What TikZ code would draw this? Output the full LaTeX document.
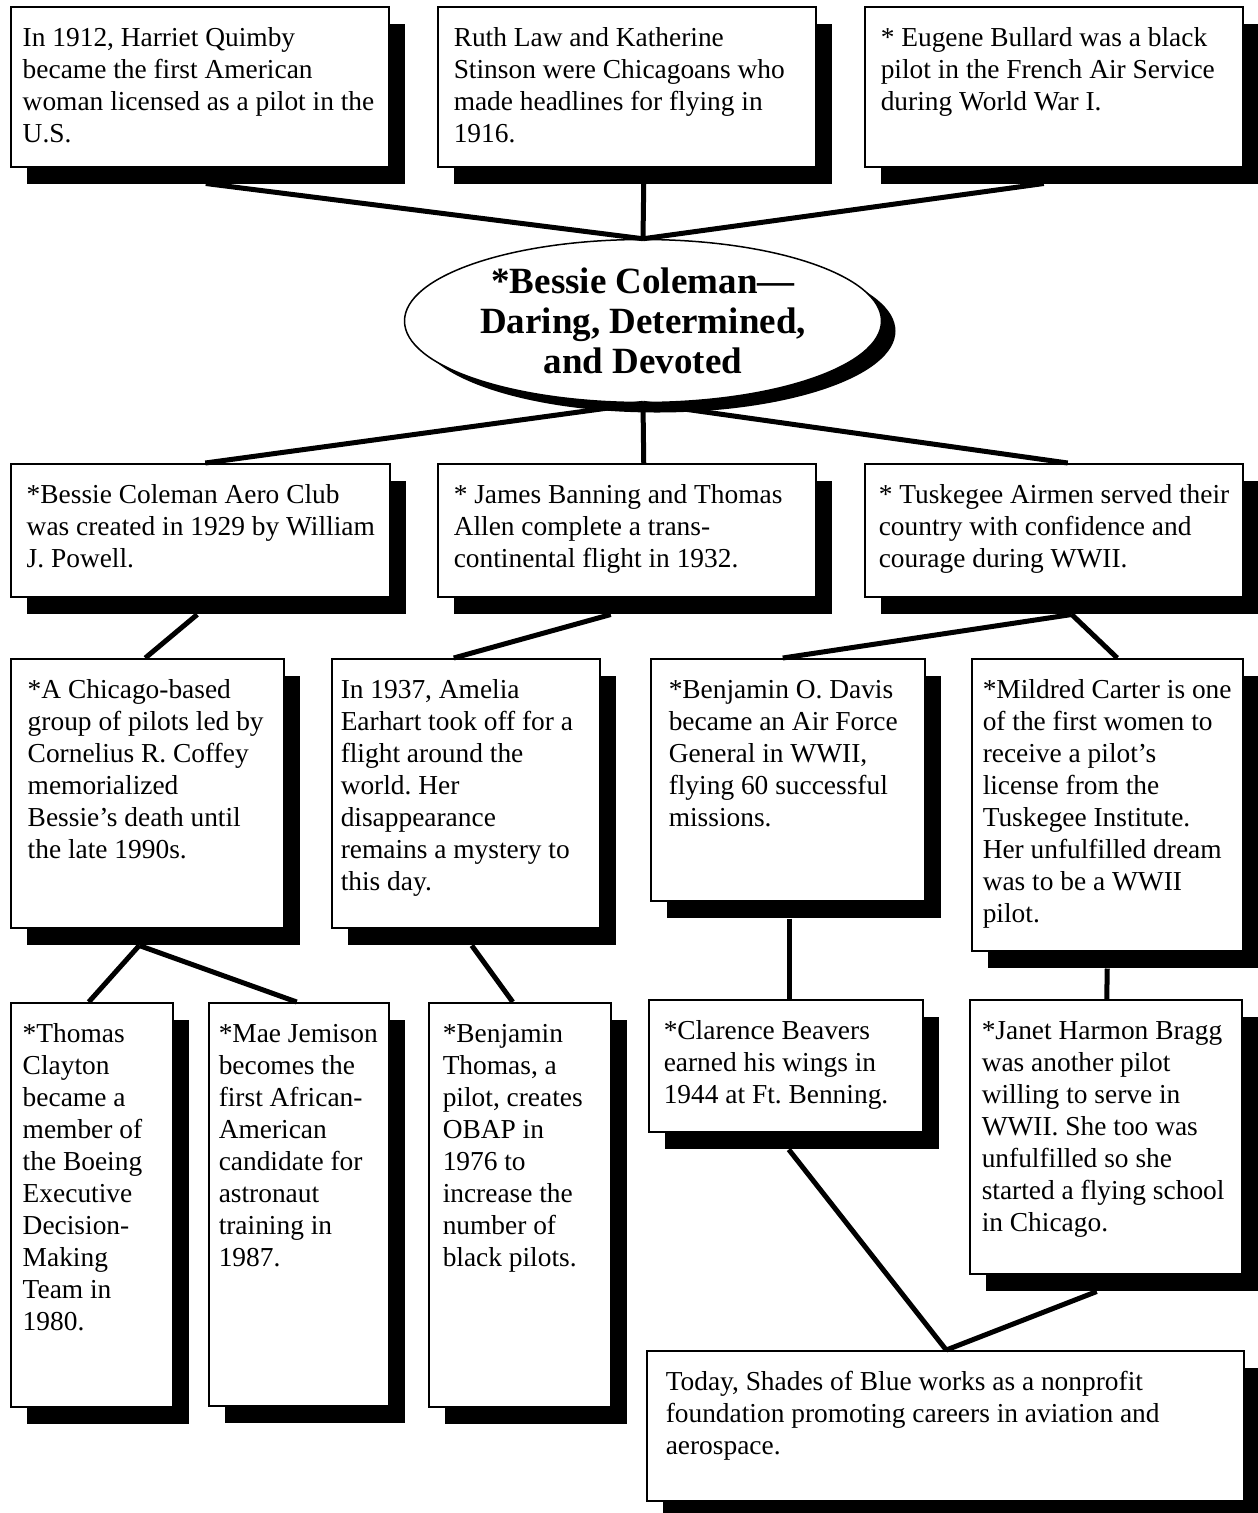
\documentclass[tikz,border=0pt]{standalone}
\usepackage{fontspec}
\setmainfont{Liberation Serif}
\usetikzlibrary{shapes.geometric,shadows}
\frenchspacing

% text of a card: [left pad]{width}{height}{lines}
\newcommand\cardtext[4][16]{%
  \begin{minipage}[t][#3pt][t]{#2pt}%
    \raggedright\leftskip=#1pt\rightskip=-40pt plus 1fil
    \rule{0pt}{40pt}#4%
  \end{minipage}}

\tikzset{
  card/.style={draw, fill=white, line width=1.5pt, inner sep=0pt,
    anchor=north west, font=\fontsize{27.4}{32}\selectfont,
    drop shadow={shadow xshift=16pt, shadow yshift=-17pt, fill=black, opacity=1}},
  hub/.style={ellipse, draw, fill=white, line width=1.5pt, inner sep=0pt,
    minimum width=477pt, minimum height=163pt, align=center,
    font=\bfseries\fontsize{37}{40}\selectfont,
    drop shadow={shadow xshift=14pt, shadow yshift=-10pt, fill=black, opacity=1}},
  link/.style={line width=5pt},
}

\begin{document}
\begin{tikzpicture}[x=1pt, y=-1pt]
  \useasboundingbox (0,0) rectangle (1258,1513);

  % centre
  \node[hub] (bessie) at (643,321) {*Bessie Coleman—\\Daring, Determined,\\and Devoted};

  % top row
  \node[card] (harriet) at (10,6) {\cardtext[12]{378}{160}{In 1912, Harriet Quimby\\became the first American\\woman licensed as a pilot in the\\U.S.}};
  \node[card] (ruth) at (437,6) {\cardtext{378}{160}{Ruth Law and Katherine\\Stinson were Chicagoans who\\made headlines for flying in\\1916.}};
  \node[card] (bullard) at (864,6) {\cardtext{378}{160}{* Eugene Bullard was a black\\pilot in the French Air Service\\during World War I.}};

  \draw[link] ([xshift=6pt,yshift=-16pt]harriet.south) -- (bessie.north);
  \draw[link] ([xshift=17pt,yshift=-16pt]ruth.south) -- (bessie.north);
  \draw[link] ([xshift=-10pt,yshift=-16pt]bullard.south) -- (bessie.north);

  % middle row
  \node[card] (aeroclub) at (10,463) {\cardtext{379}{133}{*Bessie Coleman Aero Club\\was created in 1929 by William\\J. Powell.}};
  \node[card] (banning) at (437,463) {\cardtext{378}{133}{* James Banning and Thomas\\Allen complete a trans-\\continental flight in 1932.}};
  \node[card] (tuskegee) at (864,463) {\cardtext[14]{378}{133}{* Tuskegee Airmen served their\\country with confidence and\\courage during WWII.}};

  \draw[link] (bessie.south) -- ([xshift=5pt]aeroclub.north);
  \draw[link] (bessie.south) -- ([xshift=17pt]banning.north);
  \draw[link] (bessie.south) -- ([xshift=14pt]tuskegee.north);

  % third row
  \node[card] (coffey) at (10,658) {\cardtext[17]{273}{269}{*A Chicago-based\\group of pilots led by\\Cornelius R. Coffey\\memorialized\\Bessie’s death until\\the late 1990s.}};
  \node[card] (earhart) at (331,658) {\cardtext[9]{268}{269}{In 1937, Amelia\\Earhart took off for a\\flight around the\\world. Her\\disappearance\\remains a mystery to\\this day.}};
  \node[card] (davis) at (650,658) {\cardtext[18]{274}{242}{*Benjamin O. Davis\\became an Air Force\\General in WWII,\\flying 60 successful\\missions.}};
  \node[card] (carter) at (971,658) {\cardtext[11]{271}{292}{*Mildred Carter is one\\of the first women to\\receive a pilot’s\\license from the\\Tuskegee Institute.\\Her unfulfilled dream\\was to be a WWII\\pilot.}};

  \draw[link] ([xshift=-3pt,yshift=-17pt]aeroclub.south) -- ([xshift=-2pt]coffey.north);
  \draw[link] ([xshift=-16pt,yshift=-17pt]banning.south) -- ([xshift=-12pt]earhart.north);
  \draw[link] ([xshift=18pt,yshift=-17pt]tuskegee.south) -- ([xshift=-5pt]davis.north);
  \draw[link] ([xshift=18pt,yshift=-17pt]tuskegee.south) -- ([xshift=10pt]carter.north);

  % bottom rows
  \node[card] (clayton) at (10,1002) {\cardtext[12]{162}{404}{*Thomas\\Clayton\\became a\\member of\\the Boeing\\Executive\\Decision-\\Making\\Team in\\1980.}};
  \node[card] (jemison) at (208,1002) {\cardtext[10]{180}{403}{*Mae Jemison\\becomes the\\first African-\\American\\candidate for\\astronaut\\training in\\1987.}};
  \node[card] (bthomas) at (428,1002) {\cardtext[14]{182}{404}{*Benjamin\\Thomas, a\\pilot, creates\\OBAP in\\1976 to\\increase the\\number of\\black pilots.}};
  \node[card] (beavers) at (648,999) {\cardtext[15]{274}{132}{*Clarence Beavers\\earned his wings in\\1944 at Ft. Benning.}};
  \node[card] (bragg) at (969,999) {\cardtext[12]{272}{274}{*Janet Harmon Bragg\\was another pilot\\willing to serve in\\WWII. She too was\\unfulfilled so she\\started a flying school\\in Chicago.}};
  \node[card] (shades) at (646,1350) {\cardtext[19]{597}{150}{Today, Shades of Blue works as a nonprofit\\foundation promoting careers in aviation and\\aerospace.}};

  \draw[link] ([xshift=-8pt,yshift=-17pt]coffey.south) -- ([xshift=-3pt]clayton.north);
  \draw[link] ([xshift=-8pt,yshift=-17pt]coffey.south) -- ([xshift=-2pt]jemison.north);
  \draw[link] ([xshift=6pt,yshift=-17pt]earhart.south) -- ([xshift=-7pt]bthomas.north);
  \draw[link] ([xshift=2pt,yshift=-17pt]davis.south) -- ([xshift=4pt]beavers.north);
  \draw[link] ([yshift=-17pt]carter.south) -- ([xshift=1pt]bragg.north);
  \draw[link] ([xshift=3pt,yshift=-17pt]beavers.south) -- ([xshift=1pt]shades.north);
  \draw[link] ([xshift=-9pt,yshift=-17pt]bragg.south) -- ([xshift=1pt]shades.north);
\end{tikzpicture}
\end{document}
